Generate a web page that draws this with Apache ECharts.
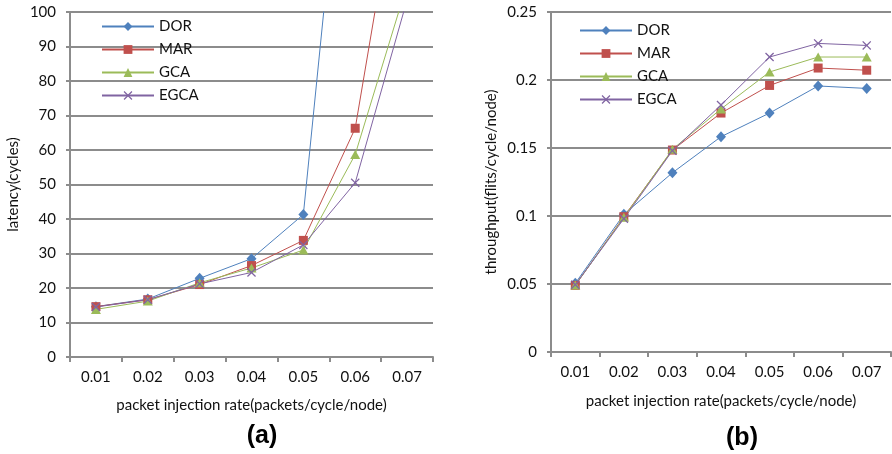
<!DOCTYPE html>
<html><head><meta charset="utf-8">
<script src="https://cdn.jsdelivr.net/npm/echarts@6/dist/echarts.min.js"></script>
<style>html,body{margin:0;padding:0;background:#fff}#c{width:892px;height:454px}</style>
</head><body><div id="c"></div>
<script>
var categories = ['0.01','0.02','0.03','0.04','0.05','0.06','0.07'];
var seriesNames = ['DOR','MAR','GCA','EGCA'];
// latency (cycles), panel (a)
var latDOR  = [14.6, 16.8, 22.8, 28.5, 41.3, 191, null];
var latMAR  = [14.6, 16.6, 21.0, 26.5, 33.8, 66.3, 155];
var latGCA  = [13.8, 16.2, 21.5, 25.8, 31.0, 58.7, 108];
var latEGCA = [14.5, 16.6, 21.2, 24.5, 32.5, 50.5, 103.5];
// throughput (flits/cycle/node), panel (b)
var thrDOR  = [0.0505, 0.1012, 0.1318, 0.1583, 0.1757, 0.1956, 0.1938];
var thrMAR  = [0.0490, 0.0995, 0.1485, 0.1757, 0.1960, 0.2088, 0.2072];
var thrGCA  = [0.0492, 0.0990, 0.1490, 0.1787, 0.2059, 0.2169, 0.2169];
var thrEGCA = [0.0495, 0.0980, 0.1480, 0.1816, 0.2169, 0.2269, 0.2254];
var latTicks = {min: 0, max: 100, interval: 10};
var thrTicks = {min: 0, max: 0.25, interval: 0.05};

var colors = ['#4F81BD','#C0504D','#9BBB59','#8064A2'];
var xPath = 'path://M1,0L5,4L9,0L10,1L6,5L10,9L9,10L5,6L1,10L0,9L4,5L0,1Z';
var symbols = ['diamond','rect','triangle',xPath];
var sizes = [[10,11],[9,9],[10,9],[9,9]];
var FONT = 'Lato';
var FS = 15;
var gridColor = '#8c8c8c';

function mkX(gi, name, gap){
  return {type:'category', gridIndex:gi, data:categories, boundaryGap:true,
    name:name, nameLocation:'middle', nameGap:gap,
    nameTextStyle:{fontFamily:FONT, fontSize:FS, color:'#111'},
    axisLine:{lineStyle:{color:gridColor, width:2}},
    axisTick:{show:true, length:5, inside:false, lineStyle:{color:gridColor, width:2}},
    axisLabel:{fontFamily:FONT, fontSize:FS, color:'#111', margin:13},
    splitLine:{show:false}};
}
function mkY(gi, t, name, gap){
  return {type:'value', gridIndex:gi, min:t.min, max:t.max, interval:t.interval,
    name:name, nameLocation:'middle', nameGap:gap,
    nameTextStyle:{fontFamily:FONT, fontSize:FS, color:'#111'},
    axisLine:{show:true, lineStyle:{color:gridColor, width:2}},
    axisTick:{show:true, length:4, lineStyle:{color:gridColor, width:2}},
    axisLabel:{fontFamily:FONT, fontSize:FS, color:'#111', margin:14},
    splitLine:{show:true, lineStyle:{color:gridColor, width:2}}};
}
function mkSeries(gi, arrs){
  return arrs.map(function(d,i){
    return {type:'line', name:seriesNames[i], xAxisIndex:gi, yAxisIndex:gi, data:d,
      symbol:symbols[i], symbolSize:sizes[i], showAllSymbol:true, clip:true,
      connectNulls:false, animation:false,
      lineStyle:{color:colors[i], width:1},
      itemStyle:{color:colors[i], borderWidth:0}};
  });
}
function mkLegend(left, top){
  return {orient:'vertical', left:left, top:top, itemWidth:52, itemHeight:11, itemGap:8,
    selectedMode:false, data:seriesNames,
    textStyle:{fontFamily:FONT, fontSize:FS, color:'#111'}};
}
var chart = echarts.init(document.getElementById('c'), null, {renderer:'canvas'});
chart.setOption({
  backgroundColor:'#fff',
  animation:false,
  title:[
    {text:'(a)', left:257, top:419, textAlign:'center', textStyle:{fontFamily:'Liberation Sans', fontWeight:'bold', fontSize:25, color:'#000'}},
    {text:'(b)', left:737, top:421, textAlign:'center', textStyle:{fontFamily:'Liberation Sans', fontWeight:'bold', fontSize:25, color:'#000'}}
  ],
  legend:[mkLegend(96,14), mkLegend(574,18)],
  grid:[
    {left:70, top:12, width:363, height:345, containLabel:false},
    {left:551, top:12, width:340, height:340, containLabel:false}
  ],
  xAxis:[mkX(0,'packet injection rate(packets/cycle/node)',41), mkX(1,'packet injection rate(packets/cycle/node)',42)],
  yAxis:[mkY(0,latTicks,'latency(cycles)',49), mkY(1,thrTicks,'throughput(flits/cycle/node)',52)],
  series:mkSeries(0,[latDOR,latMAR,latGCA,latEGCA]).concat(mkSeries(1,[thrDOR,thrMAR,thrGCA,thrEGCA]))
});
</script></body></html>
